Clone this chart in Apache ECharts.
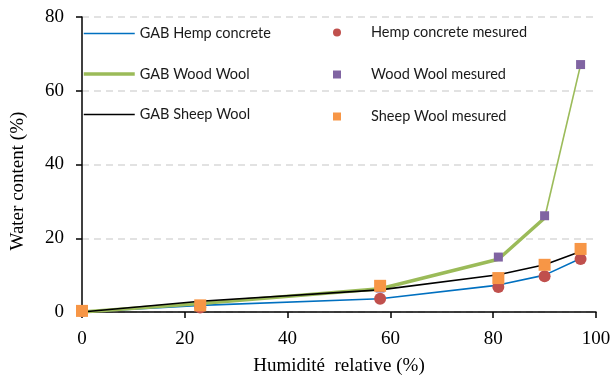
<!DOCTYPE html>
<html>
<head>
<meta charset="utf-8">
<script src="https://cdn.jsdelivr.net/npm/echarts@6/dist/echarts.min.js"></script>
<style>html,body{margin:0;padding:0;background:#fff}#c{width:614px;height:381px}</style>
</head>
<body>
<div id="c"></div>
<script>
// Relative humidity (%) at which GAB model and measurements are given
const rh = [0, 23, 58, 81, 90, 97];
// GAB model curves (water content %)
const gabHemp  = [0, 1.8, 3.6, 7.3, 10.0, 14.5];
const gabWood  = [0, 2.3, 6.3, 14.3, 25.5, 67.0];
const gabSheep = [0, 2.9, 6.0, 10.1, 12.8, 16.4];
// Measured values (water content %)
const mesHemp  = [0.3, 1.2, 3.6, 6.8, 9.7, 14.4];
const mesWood  = [0.3, 2.0, 6.5, 14.9, 26.1, 67.1];
const mesSheep = [0.3, 1.8, 7.1, 9.2, 12.8, 17.1];
// Axis ticks
const xTicks = {min: 0, max: 100, step: 20};
const yTicks = {min: 0, max: 80, step: 20};

const names = {
  gHemp: 'GAB Hemp concrete', gWood: 'GAB Wood Wool', gSheep: 'GAB Sheep Wool',
  mHemp: 'Hemp concrete mesured', mWood: 'Wood Wool mesured', mSheep: 'Sheep Wool mesured'
};

function pairs(xs, ys) { return xs.map((x, i) => [x, ys[i]]); }

const woodThick = pairs(rh, gabWood).slice(0, 5);
const woodThin = pairs(rh, gabWood).slice(4);

const chart = echarts.init(document.getElementById('c'), null, {renderer: 'canvas'});
const serif = '"Liberation Serif", "Times New Roman", serif';
const sans = 'Lato, "Open Sans", sans-serif';

chart.setOption({
  animation: false,
  backgroundColor: '#fff',
  grid: {left: 82, right: 18, top: 17, bottom: 69, containLabel: false},
  legend: [
    {
      data: [
        {name: names.gHemp, lineStyle: {width: 1.6}},
        {name: names.gWood, lineStyle: {width: 3.5}},
        {name: names.gSheep, lineStyle: {width: 1.6}}
      ],
      orient: 'vertical', left: 82, top: 26, padding: 0,
      itemWidth: 51, itemHeight: 14, itemGap: 25.5,
      itemStyle: {opacity: 0},
      textStyle: {fontFamily: sans, fontSize: 14.5, color: '#1a1a1a'}
    },
    {
      data: [names.mHemp, names.mWood, names.mSheep],
      orient: 'vertical', left: 333, top: 25, padding: 0,
      itemWidth: 8, itemHeight: 8, itemGap: 27,
      textStyle: {fontFamily: sans, fontSize: 14.5, color: '#1a1a1a', padding: [0, 0, 0, 25]}
    }
  ],
  xAxis: {
    type: 'value', min: xTicks.min, max: xTicks.max, interval: xTicks.step,
    name: 'Humidité  relative (%)', nameLocation: 'middle', nameGap: 45,
    nameTextStyle: {fontFamily: serif, fontSize: 19, color: '#000'},
    axisLine: {show: true, lineStyle: {color: '#000', width: 1.5}},
    axisTick: {show: true, inside: false, length: 6, lineStyle: {color: '#000', width: 1.5}},
    axisLabel: {fontFamily: serif, fontSize: 19, color: '#000', margin: 18},
    splitLine: {show: false}
  },
  yAxis: {
    type: 'value', min: yTicks.min, max: yTicks.max, interval: yTicks.step,
    name: '{t|Water content (%)}', nameLocation: 'middle', nameGap: 54,
    nameTextStyle: {fontFamily: serif, fontSize: 19, color: '#000',
      rich: {t: {fontFamily: serif, fontSize: 19, color: '#000', width: 172, align: 'left'}}},
    axisLine: {show: true, lineStyle: {color: '#000', width: 1.5}},
    axisTick: {show: true, inside: false, length: 6, lineStyle: {color: '#000', width: 1.5}},
    axisLabel: {fontFamily: serif, fontSize: 19, color: '#000', margin: 18},
    splitLine: {show: true, lineStyle: {color: '#d9d9d9', type: [7, 5], width: 1.5}}
  },
  series: [
    {name: names.gHemp, type: 'line', data: pairs(rh, gabHemp), symbol: 'none',
     lineStyle: {color: '#0070C0', width: 1.6}, itemStyle: {color: '#0070C0'}, z: 2},
    {name: names.gWood, type: 'line', data: woodThick, symbol: 'none',
     lineStyle: {color: '#9BBB59', width: 3.5}, itemStyle: {color: '#9BBB59'}, z: 2},
    {name: 'GAB Wood Wool (high RH)', type: 'line', data: woodThin, symbol: 'none',
     lineStyle: {color: '#9BBB59', width: 1.6}, itemStyle: {color: '#9BBB59'}, z: 2},
    {name: names.gSheep, type: 'line', data: pairs(rh, gabSheep), symbol: 'none',
     lineStyle: {color: '#000', width: 1.6}, itemStyle: {color: '#000'}, z: 2},
    {name: names.mHemp, type: 'scatter', data: pairs(rh, mesHemp), symbol: 'circle', symbolSize: 12,
     itemStyle: {color: '#C0504D', opacity: 1}, z: 3},
    {name: names.mWood, type: 'scatter', data: pairs(rh, mesWood), symbol: 'rect', symbolSize: 9,
     itemStyle: {color: '#8064A2', opacity: 1}, z: 4},
    {name: names.mSheep, type: 'scatter', data: pairs(rh, mesSheep), symbol: 'rect', symbolSize: 12,
     itemStyle: {color: '#F79646', opacity: 1}, z: 5}
  ]
});
</script>
</body>
</html>
